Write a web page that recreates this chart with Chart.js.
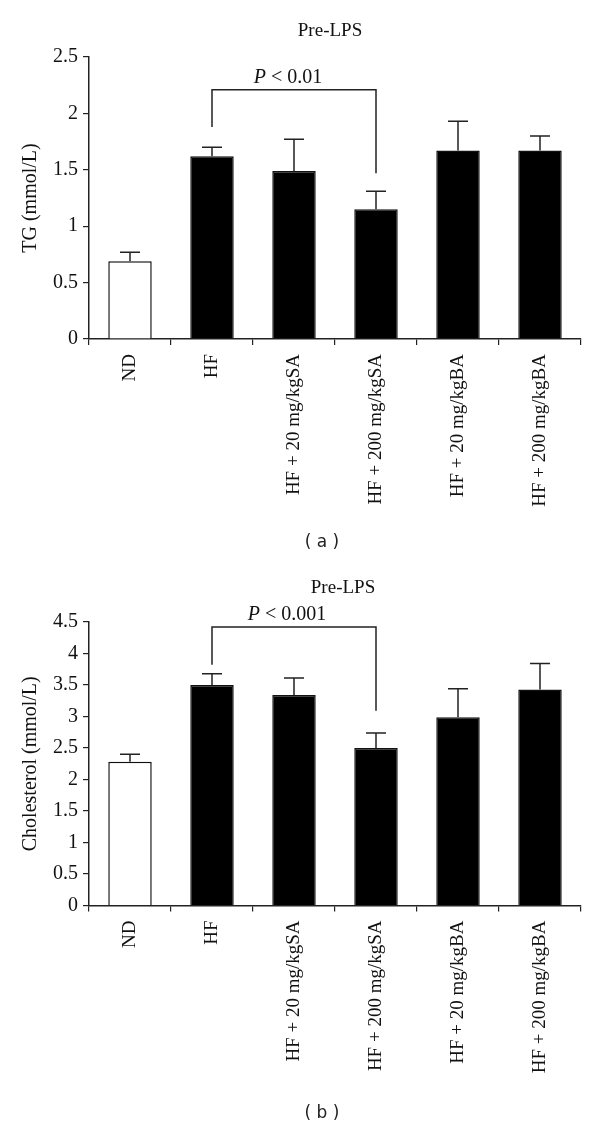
<!DOCTYPE html>
<html><head><meta charset="utf-8">
<script src="https://cdn.jsdelivr.net/npm/chart.js@4.4.0/dist/chart.umd.min.js"></script>
<style>
html,body{margin:0;padding:0;background:#fff;}
#wrap{position:relative;width:600px;height:1127px;background:#fff;}
canvas{position:absolute;left:0;}
</style></head><body>
<div id="wrap">
<canvas id="c1" width="600" height="560" style="top:0px"></canvas>
<canvas id="c2" width="600" height="567" style="top:560px"></canvas>
</div>
<script>
const categories = ["ND", "HF", "HF + 20 mg/kgSA", "HF + 200 mg/kgSA", "HF + 20 mg/kgBA", "HF + 200 mg/kgBA"];
const tgMeans = [0.69, 1.62, 1.49, 1.15, 1.67, 1.67];
const tgErrors = [0.08, 0.08, 0.28, 0.16, 0.26, 0.13];
const cholMeans = [2.28, 3.50, 3.34, 2.50, 2.99, 3.43];
const cholErrors = [0.12, 0.18, 0.27, 0.24, 0.45, 0.41];
const tgTicks = [0, 0.5, 1, 1.5, 2, 2.5];
const cholTicks = [0, 0.5, 1, 1.5, 2, 2.5, 3, 3.5, 4, 4.5];
const barFills = ["#ffffff", "#000000", "#000000", "#000000", "#000000", "#000000"];

const SERIF = '"Liberation Serif", "Times New Roman", serif';

const extras = {
  id: 'extras',
  afterDatasetsDraw(chart, args, o) {
    const ctx = chart.ctx, xs = chart.scales.x, ys = chart.scales.y;
    const meta = chart.getDatasetMeta(0);
    ctx.save();
    ctx.strokeStyle = '#222';
    ctx.lineWidth = 1.5;
    o.means.forEach((m, i) => {
      const bx = meta.data[i].x;
      const y0 = ys.getPixelForValue(m);
      const y1 = ys.getPixelForValue(m + o.errors[i]);
      ctx.beginPath();
      ctx.moveTo(bx, y0); ctx.lineTo(bx, y1);
      ctx.moveTo(bx - 10, y1); ctx.lineTo(bx + 10, y1);
      ctx.stroke();
    });
    // significance bracket
    const b = o.bracket;
    const xl = xs.getPixelForValue(b.from), xr = xs.getPixelForValue(b.to);
    const yt = ys.getPixelForValue(b.top);
    ctx.beginPath();
    ctx.moveTo(xl, ys.getPixelForValue(b.leftEnd));
    ctx.lineTo(xl, yt);
    ctx.lineTo(xr, yt);
    ctx.lineTo(xr, ys.getPixelForValue(b.rightEnd));
    ctx.stroke();
    // P text
    ctx.fillStyle = '#111';
    ctx.textBaseline = 'alphabetic';
    ctx.textAlign = 'left';
    ctx.font = 'italic 20px ' + SERIF;
    const wP = ctx.measureText('P').width;
    ctx.font = '20px ' + SERIF;
    const wR = ctx.measureText(o.pRest).width;
    const sx = o.pX - (wP + wR) / 2;
    const base = yt - 7;
    ctx.font = 'italic 20px ' + SERIF;
    ctx.fillText('P', sx, base);
    ctx.font = '20px ' + SERIF;
    ctx.fillText(o.pRest, sx + wP, base);
    // title
    ctx.textAlign = 'center';
    ctx.textBaseline = 'middle';
    ctx.font = '19px ' + SERIF;
    ctx.fillText(o.title, o.titleX, o.titleY);
    // caption
    ctx.font = '17px "DejaVu Sans", sans-serif';
    ctx.fillStyle = '#222';
    ctx.fillText(o.caption, o.capX, o.capY);
    ctx.restore();
  }
};

function makeChart(id, means, errors, ticks, yTitle, padTop, xHeight, extraOpts) {
  const yMax = ticks[ticks.length - 1];
  return new Chart(document.getElementById(id), {
    type: 'bar',
    data: {
      labels: categories,
      datasets: [{
        data: means,
        backgroundColor: barFills,
        borderColor: '#111',
        borderWidth: 1.5,
        borderSkipped: 'bottom',
        barPercentage: 0.53,
        categoryPercentage: 1.0
      }]
    },
    options: {
      responsive: false,
      animation: false,
      devicePixelRatio: 1,
      layout: { padding: { top: padTop, right: 19, bottom: 0, left: 0 } },
      plugins: {
        legend: { display: false },
        tooltip: { enabled: false },
        title: { display: false },
        extras: Object.assign({ means: means, errors: errors }, extraOpts)
      },
      scales: {
        x: {
          offset: true,
          grid: { display: true, offset: true, drawOnChartArea: false, drawTicks: true, tickLength: 6, color: '#222', lineWidth: 1.2 },
          border: { display: true, color: '#222', width: 1.5 },
          ticks: {
            color: '#111', padding: 9, minRotation: 90, maxRotation: 90, autoSkip: false,
            font: { family: SERIF, size: 19 }
          },
          afterFit(s) { s.height = xHeight; }
        },
        y: {
          min: 0, max: yMax,
          afterBuildTicks(s) { s.ticks = ticks.map(v => ({ value: v })); },
          grid: { display: true, drawOnChartArea: false, drawTicks: true, tickLength: 6, color: '#222', lineWidth: 1.2 },
          border: { display: true, color: '#222', width: 1.5 },
          ticks: {
            color: '#111', padding: 5,
            font: { family: SERIF, size: 20 },
            callback: v => String(v)
          },
          title: {
            display: true, text: yTitle, color: '#111',
            font: { family: SERIF, size: 20 },
            padding: { top: 19, bottom: 0 }
          },
          afterFit(s) { s.width = 89; }
        }
      }
    },
    plugins: [extras]
  });
}

makeChart('c1', tgMeans, tgErrors, tgTicks, 'TG (mmol/L)', 57, 221, {
  bracket: { from: 1, to: 3, top: 2.21, leftEnd: 1.88, rightEnd: 1.47 },
  pRest: ' < 0.01', pX: 288,
  title: 'Pre-LPS', titleX: 330, titleY: 31,
  caption: '( a )', capX: 322, capY: 543
});

makeChart('c2', cholMeans, cholErrors, cholTicks, 'Cholesterol (mmol/L)', 62, 221.5, {
  bracket: { from: 1, to: 3, top: 4.42, leftEnd: 3.82, rightEnd: 3.09 },
  pRest: ' < 0.001', pX: 287,
  title: 'Pre-LPS', titleX: 343, titleY: 28,
  caption: '( b )', capX: 322, capY: 554
});
</script>
</body></html>
